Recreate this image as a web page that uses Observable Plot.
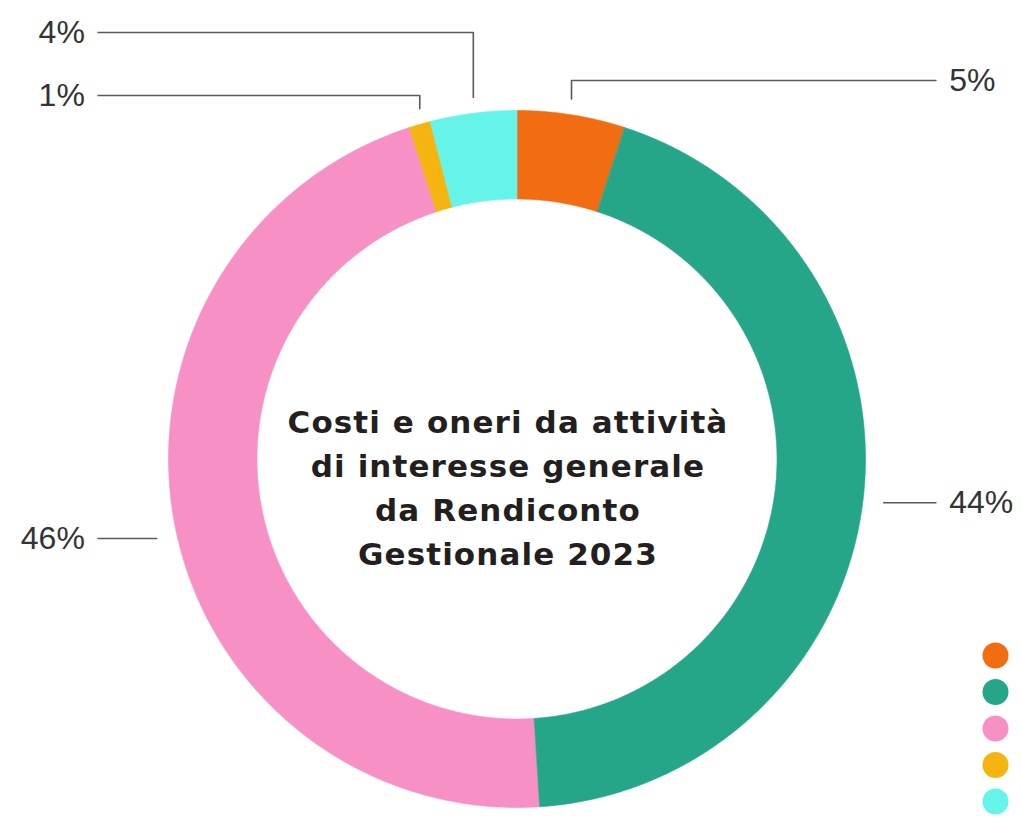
<!DOCTYPE html>
<html>
<head>
<meta charset="utf-8">
<script src="https://cdn.jsdelivr.net/npm/d3@7"></script>
<script src="https://cdn.jsdelivr.net/npm/@observablehq/plot@0.6"></script>
<style>
  html, body { margin: 0; padding: 0; background: #ffffff; }
  #chart { width: 1022px; height: 818px; }
</style>
</head>
<body>
<div id="chart"></div>
<script>
// ---- data ----
const categories = ["Voce 1", "Voce 2", "Voce 3", "Voce 4", "Voce 5"];
const values = [5, 44, 46, 1, 4];
const labels = ["5%", "44%", "46%", "1%", "4%"];
const colors = ["#f26c12", "#26a688", "#f790c5", "#f5b40f", "#66f4ea"];
const titleLines = ["Costi e oneri da attività", "di interesse generale", "da Rendiconto", "Gestionale 2023"];

// ---- layout (data units of the chart's own x/y scales) ----
const R_OUT = 1, R_IN = 0.746;
const labelSide = ["right", "right", "left", "left", "left"];
const labelElbowY = [1.086, null, -0.228, 1.043, 1.224]; // null: follow slice mid-angle
const topLabel = [true, false, false, true, true];

const pie = d3.pie().sort(null).value(d => d)(values);

// ring slices as closed polygons
const arcPts = [];
pie.forEach((p, i) => {
  const n = Math.max(6, Math.ceil((p.endAngle - p.startAngle) / 0.005));
  for (let k = 0; k <= n; k++) {
    const a = p.startAngle + (p.endAngle - p.startAngle) * k / n;
    arcPts.push({cat: categories[i], x: R_OUT * Math.sin(a), y: R_OUT * Math.cos(a)});
  }
  for (let k = n; k >= 0; k--) {
    const a = p.startAngle + (p.endAngle - p.startAngle) * k / n;
    arcPts.push({cat: categories[i], x: R_IN * Math.sin(a), y: R_IN * Math.cos(a)});
  }
});

// leader lines + labels
const leaderPts = [];
const labelData = [];
pie.forEach((p, i) => {
  const mid = (p.startAngle + p.endAngle) / 2;
  const sgn = labelSide[i] === "right" ? 1 : -1;
  const endX = sgn * 1.202;
  const textX = sgn * 1.24;
  if (topLabel[i]) {
    const sx = Math.sin(mid), sy = Math.cos(mid) + 0.045;
    const ey = labelElbowY[i];
    leaderPts.push({id: i, x: sx, y: sy}, {id: i, x: sx, y: ey}, {id: i, x: endX, y: ey});
    labelData.push({side: labelSide[i], x: textX, y: ey, text: labels[i]});
  } else {
    const ey = labelElbowY[i] == null ? Math.cos(mid) : labelElbowY[i];
    const sx = sgn * (Math.sqrt(1 - ey * ey) + 0.06);
    leaderPts.push({id: i, x: sx, y: ey}, {id: i, x: endX, y: ey});
    labelData.push({side: labelSide[i], x: textX, y: ey, text: labels[i]});
  }
});

// legend dots (no labels, as in the original)
const legendData = categories.map((c, i) => ({cat: c, x: 1.373, y: -0.564 - i * 0.1047}));

const titleData = [{x: -0.026, y: -0.073, text: titleLines.join("\n")}];

const chart = Plot.plot({
  width: 1022,
  height: 818,
  margin: 0,
  style: {background: "#ffffff", overflow: "visible"},
  x: {domain: [-1, 1], range: [168, 865], axis: null},
  y: {domain: [-1, 1], range: [807, 110], axis: null},
  color: {domain: categories, range: colors},
  marks: [
    Plot.line(arcPts, {x: "x", y: "y", z: "cat", fill: "cat", stroke: "cat", strokeWidth: 0.6, curve: "linear-closed"}),
    Plot.line(leaderPts, {x: "x", y: "y", z: "id", stroke: "#5a5a5a", strokeWidth: 1.6, curve: "linear"}),
    Plot.text(labelData.filter(d => d.side === "right"), {x: "x", y: "y", text: "text", textAnchor: "start", fontSize: 32, fontFamily: "'Liberation Sans', Arial, sans-serif", fill: "#333333"}),
    Plot.text(labelData.filter(d => d.side === "left"), {x: "x", y: "y", text: "text", textAnchor: "end", fontSize: 32, fontFamily: "'Liberation Sans', Arial, sans-serif", fill: "#333333"}),
    Plot.dot(legendData, {x: "x", y: "y", fill: "cat", r: 13}),
    Plot.text(titleData, {x: "x", y: "y", text: "text", fontSize: 31, fontWeight: 700, lineHeight: 1.42, fontFamily: "'DejaVu Sans', sans-serif", fill: "#231f20"})
  ]
});
// widen the centre title a little (the original uses a wider geometric face)
chart.querySelectorAll("text").forEach(t => {
  if (t.textContent.includes("Costi")) t.setAttribute("letter-spacing", "1.1");
});
document.getElementById("chart").appendChild(chart);
</script>
</body>
</html>
